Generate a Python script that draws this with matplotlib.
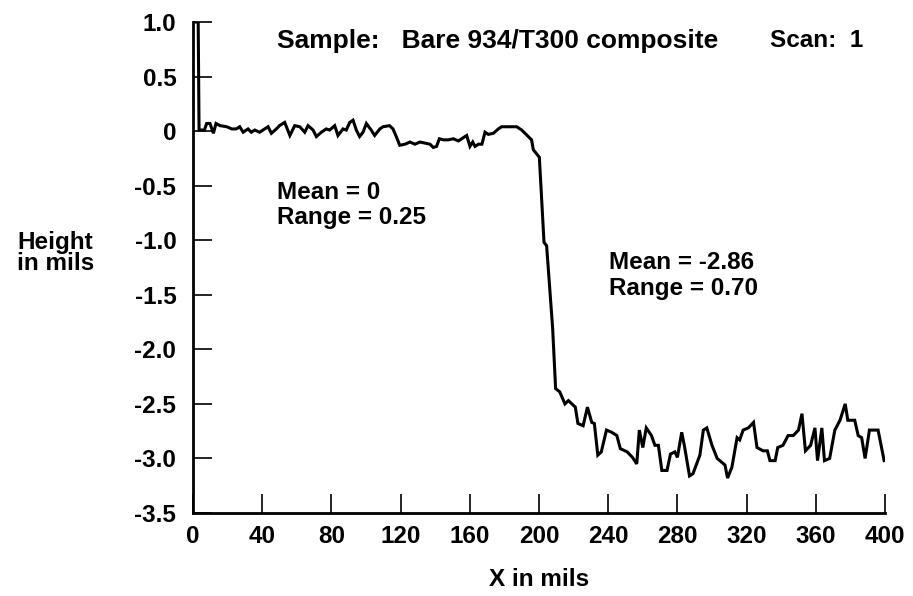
import matplotlib
matplotlib.use("Agg")
import matplotlib.pyplot as plt

plt.rcParams['font.family'] = ['Liberation Sans', 'DejaVu Sans']
plt.rcParams['font.weight'] = 'bold'

x_mils = [0.5, 3, 3.5, 6.6, 7.9, 9.8, 11.8, 13.3, 15.6, 19.5, 22.4, 25, 27, 29, 31.8, 33.7,
          35.7, 38.5, 40.5, 43.4, 45.3, 48.2, 50, 53, 56, 58.8, 61.7, 64.6, 66.5, 69.4,
          71.3, 74.2, 77, 79, 81.9, 83.8, 86.7, 88.6, 90.6, 92.5, 94.4, 96.3, 98.3, 100.2,
          103, 105, 108, 109.8, 113.6, 115.6, 117.5, 119.5, 122.6, 125.4, 128.3, 131.2,
          134.1, 137, 138.9, 140.8, 142.4, 144.7, 147.6, 150.5, 153.4, 156.3, 158.2, 160.1,
          161.7, 163, 165, 167, 168.8, 170.7, 173.6, 176.5, 178.4, 183.2, 187.1, 190, 191.9,
          193.8, 195.7, 196.7, 198.7, 200.2, 202.9, 204.4, 207.9, 209.6, 212, 215, 217, 221,
          222.5, 225.5, 228, 230.5, 232, 234, 236, 239, 242, 245, 247, 251, 254, 256.5, 258,
          260, 262, 265, 267, 269, 271, 274, 276, 278.5, 280, 282.5, 284, 287, 289, 293,
          295, 297, 300, 303, 306, 307.5, 309, 311.5, 314.5, 316, 318, 321, 324, 326, 329.5,
          332, 333.5, 336.5, 338, 341, 344, 347, 350, 352, 354, 357, 359.5, 361, 363.5, 365,
          368, 371, 374, 377, 378.5, 382.5, 384.5, 386.5, 388.5, 391, 396, 399.5]

height_mils = [1.0, 1.0, 0.01, 0.01, 0.07, 0.07, -0.02, 0.07, 0.05, 0.04, 0.02, 0.02, 0.04,
               -0.01, 0.02, -0.01, 0.01, -0.01, 0.01, 0.04, -0.02, 0.02, 0.05, 0.08, -0.04,
               0.05, 0.04, -0.01, 0.05, 0.01, -0.05, -0.01, 0.02, 0.01, 0.05, -0.04, 0.02,
               0.01, 0.08, 0.10, 0.01, -0.05, -0.01, 0.07, 0.01, -0.04, 0.02, 0.04, 0.05, 0.02,
               -0.05, -0.13, -0.12, -0.10, -0.12, -0.10, -0.11, -0.12, -0.15, -0.14, -0.07,
               -0.08, -0.08, -0.07, -0.09, -0.06, -0.04, -0.14, -0.10, -0.14, -0.12, -0.12,
               -0.01, -0.03, -0.02, 0.02, 0.04, 0.04, 0.04, 0.01, -0.02, -0.05, -0.08, -0.17,
               -0.21, -0.24, -1.02, -1.05, -1.81, -2.36, -2.39, -2.50, -2.47, -2.53, -2.68,
               -2.70, -2.53, -2.67, -2.68, -2.97, -2.94, -2.74, -2.76, -2.79, -2.91, -2.94,
               -2.99, -3.05, -2.74, -2.90, -2.72, -2.79, -2.88, -2.88, -3.11, -3.11, -2.96,
               -2.94, -2.99, -2.76, -2.88, -3.16, -3.14, -2.97, -2.74, -2.72, -2.88, -3.00,
               -3.04, -3.06, -3.18, -3.08, -2.81, -2.83, -2.74, -2.72, -2.67, -2.90, -2.93,
               -2.93, -3.02, -3.02, -2.90, -2.88, -2.79, -2.79, -2.74, -2.59, -2.93, -2.88,
               -2.72, -3.02, -2.72, -3.02, -3.00, -2.74, -2.65, -2.50, -2.65, -2.65, -2.79,
               -2.81, -3.00, -2.74, -2.74, -3.02]

x_ticks = [0, 40, 80, 120, 160, 200, 240, 280, 320, 360, 400]
y_ticks = [1.0, 0.5, 0, -0.5, -1.0, -1.5, -2.0, -2.5, -3.0, -3.5]
y_tick_labels = ['1.0', '0.5', '0', '-0.5', '-1.0', '-1.5', '-2.0', '-2.5', '-3.0', '-3.5']

title_text = 'Sample:   Bare 934/T300 composite'
scan_text = 'Scan:  1'
left_stats = 'Mean = 0\nRange = 0.25'
right_stats = 'Mean = -2.86\nRange = 0.70'

W, H = 913, 596
fig = plt.figure(figsize=(W / 100, H / 100), dpi=100)
ax = fig.add_axes([193 / W, 1 - 513 / H, (885 - 193) / W, (513 - 22) / H])

ax.plot(x_mils, height_mils, color='black', lw=2.2, solid_joinstyle='miter', clip_on=True)

ax.set_xlim(0, 400)
ax.set_ylim(-3.5, 1.0)
ax.spines['top'].set_visible(False)
ax.spines['right'].set_visible(False)
for s in ('left', 'bottom'):
    ax.spines[s].set_linewidth(2.0)

ax.set_xticks(x_ticks)
ax.set_xticklabels([str(v) for v in x_ticks])
ax.set_yticks(y_ticks)
ax.set_yticklabels(y_tick_labels)
ax.tick_params(axis='both', direction='in', length=13.5, width=1.2, labelsize=17.5, colors='black')
ax.tick_params(axis='x', pad=8.5)
ax.tick_params(axis='y', pad=12)
for lab in ax.get_xticklabels() + ax.get_yticklabels():
    lab.set_fontweight('bold')

fs = 17.5
ax.text(48.6, 0.83, title_text, fontsize=19, fontweight='bold', va='center', ha='left')
ax.text(333.5, 0.83, scan_text, fontsize=fs, fontweight='bold', va='center', ha='left')
ax.text(48.6, -0.46, left_stats, fontsize=fs, fontweight='bold', va='top', ha='left',
        linespacing=1.1)
ax.text(240.5, -1.10, right_stats, fontsize=fs, fontweight='bold', va='top', ha='left',
        linespacing=1.15)

fig.text(17 / W, 1 - 231 / H, 'Height\nin mils', fontsize=fs, fontweight='bold',
         va='top', ha='left', linespacing=0.9)
fig.text(539 / W, 1 - 580 / H, 'X in mils', fontsize=fs, fontweight='bold',
         va='center', ha='center')

fig.savefig('out.png', dpi=100)
